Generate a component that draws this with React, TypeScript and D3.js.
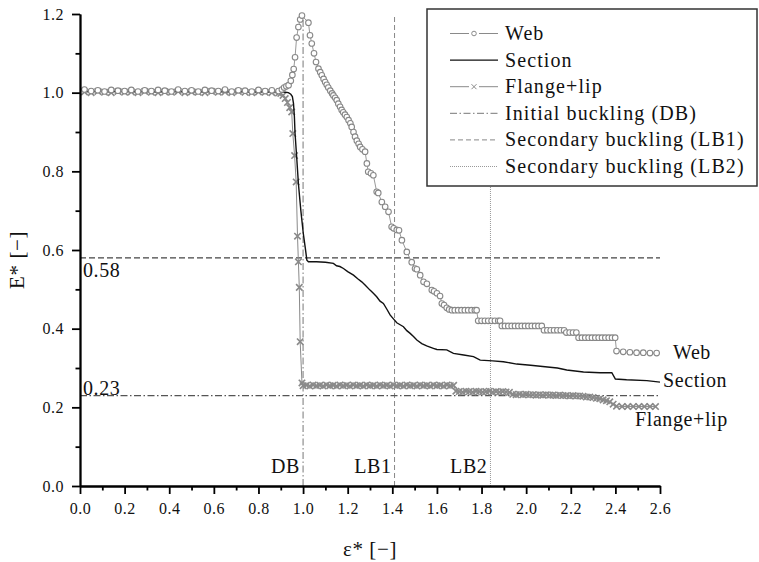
import React, { useRef, useEffect } from 'react';
import * as d3 from 'd3';

// normalised strain eps* vs normalised stiffness E*
const webData: [number, number][] = [
  [0.02, 1.008], [0.05, 1.004], [0.08, 1.006], [0.11, 1.003], [0.14, 1.007], [0.17, 1.005],
  [0.20, 1.004], [0.23, 1.007], [0.26, 1.003], [0.29, 1.006], [0.32, 1.004], [0.35, 1.007],
  [0.38, 1.005], [0.41, 1.003], [0.44, 1.008], [0.47, 1.004], [0.50, 1.006], [0.53, 1.003],
  [0.56, 1.007], [0.59, 1.005], [0.62, 1.004], [0.65, 1.008], [0.68, 1.003], [0.71, 1.006],
  [0.74, 1.005], [0.77, 1.003], [0.80, 1.007], [0.83, 1.004], [0.86, 1.006], [0.89, 1.004],
  [0.905, 1.008], [0.915, 1.013], [0.925, 1.016], [0.935, 1.019], [0.945, 1.03], [0.952, 1.045],
  [0.958, 1.06], [0.964, 1.09], [0.971, 1.14], [0.979, 1.167], [0.987, 1.186], [0.995, 1.196],
  [1.024, 1.178], [1.031, 1.146], [1.039, 1.125], [1.049, 1.1], [1.058, 1.078], [1.069, 1.061],
  [1.077, 1.052], [1.084, 1.044], [1.092, 1.035], [1.099, 1.027], [1.106, 1.02], [1.113, 1.013],
  [1.122, 1.005], [1.13, 0.998], [1.136, 0.993], [1.144, 0.987], [1.151, 0.981], [1.158, 0.972],
  [1.166, 0.964], [1.173, 0.956], [1.18, 0.95], [1.188, 0.944], [1.196, 0.938], [1.204, 0.93],
  [1.212, 0.922], [1.218, 0.913], [1.226, 0.9], [1.233, 0.888], [1.241, 0.878], [1.249, 0.87],
  [1.256, 0.862], [1.266, 0.856], [1.278, 0.85], [1.286, 0.82], [1.292, 0.799], [1.304, 0.795],
  [1.315, 0.79], [1.33, 0.748], [1.337, 0.745], [1.353, 0.722], [1.368, 0.71], [1.383, 0.697],
  [1.397, 0.659], [1.406, 0.655], [1.42, 0.651], [1.43, 0.65], [1.443, 0.625], [1.465, 0.595],
  [1.487, 0.569], [1.502, 0.553], [1.51, 0.551], [1.525, 0.536], [1.54, 0.519], [1.555, 0.514],
  [1.577, 0.498], [1.587, 0.495], [1.6, 0.49], [1.614, 0.483], [1.622, 0.464], [1.632, 0.46],
  [1.644, 0.453], [1.655, 0.449],
  [1.667, 0.447], [1.68, 0.447], [1.695, 0.447], [1.71, 0.447], [1.725, 0.447], [1.74, 0.447],
  [1.755, 0.447], [1.77, 0.447], [1.778, 0.447],
  [1.785, 0.42], [1.8, 0.42], [1.815, 0.42], [1.83, 0.42], [1.845, 0.42], [1.86, 0.42],
  [1.875, 0.42], [1.883, 0.42],
  [1.891, 0.407], [1.905, 0.407], [1.92, 0.407], [1.935, 0.407], [1.95, 0.407], [1.965, 0.407],
  [1.98, 0.407], [1.995, 0.407], [2.01, 0.407], [2.025, 0.407], [2.04, 0.407], [2.055, 0.407],
  [2.07, 0.407],
  [2.08, 0.396], [2.095, 0.396], [2.11, 0.396], [2.125, 0.396], [2.14, 0.396], [2.155, 0.396],
  [2.17, 0.396],
  [2.18, 0.39], [2.195, 0.39], [2.21, 0.39], [2.225, 0.39],
  [2.235, 0.377], [2.25, 0.377], [2.265, 0.377], [2.28, 0.377], [2.295, 0.377], [2.31, 0.377],
  [2.325, 0.377], [2.34, 0.377], [2.355, 0.377], [2.37, 0.377], [2.385, 0.377], [2.399, 0.377],
  [2.405, 0.343], [2.435, 0.341], [2.465, 0.34], [2.495, 0.339], [2.525, 0.339], [2.555, 0.338],
  [2.585, 0.338],
];

const sectionData: [number, number][] = [
  [0.02, 1.004], [0.3, 1.003], [0.6, 1.003], [0.9, 1.002], [0.92, 1.001], [0.934, 1.0],
  [0.945, 0.996], [0.952, 0.99], [0.957, 0.973], [0.961, 0.94], [0.964, 0.897], [0.972, 0.83],
  [0.979, 0.769], [0.99, 0.7], [1.001, 0.642], [1.01, 0.605], [1.017, 0.574], [1.024, 0.57],
  [1.06, 0.57], [1.1, 0.569], [1.136, 0.566], [1.15, 0.56], [1.165, 0.558], [1.181, 0.553],
  [1.2, 0.545], [1.226, 0.536], [1.245, 0.527], [1.263, 0.519], [1.28, 0.51], [1.3, 0.498],
  [1.315, 0.49], [1.33, 0.481], [1.345, 0.47], [1.36, 0.464], [1.375, 0.45], [1.39, 0.435],
  [1.405, 0.425], [1.42, 0.415], [1.435, 0.41], [1.45, 0.405], [1.465, 0.395], [1.48, 0.388],
  [1.495, 0.38], [1.51, 0.371], [1.532, 0.362], [1.554, 0.356], [1.584, 0.35], [1.6, 0.347],
  [1.644, 0.346], [1.674, 0.337], [1.72, 0.333], [1.764, 0.329], [1.794, 0.32], [1.85, 0.318],
  [1.898, 0.316], [1.958, 0.31], [2.02, 0.307], [2.085, 0.303], [2.14, 0.3], [2.182, 0.295],
  [2.257, 0.29], [2.332, 0.288], [2.384, 0.288], [2.4, 0.272], [2.45, 0.27], [2.541, 0.268],
  [2.6, 0.264],
];

const flangeData: [number, number][] = [
  [0.02, 1.002], [0.05, 1.0], [0.08, 1.003], [0.11, 1.001], [0.14, 1.0], [0.17, 1.003],
  [0.20, 1.001], [0.23, 1.002], [0.26, 1.0], [0.29, 1.003], [0.32, 1.001], [0.35, 1.0],
  [0.38, 1.002], [0.41, 1.001], [0.44, 1.003], [0.47, 1.0], [0.50, 1.002], [0.53, 1.001],
  [0.56, 1.0], [0.59, 1.003], [0.62, 1.001], [0.65, 1.002], [0.68, 1.0], [0.71, 1.003],
  [0.74, 1.001], [0.77, 1.0], [0.80, 1.002], [0.83, 1.001], [0.86, 1.0], [0.89, 0.999],
  [0.9, 0.998], [0.91, 0.993], [0.92, 0.985], [0.93, 0.975], [0.94, 0.962], [0.949, 0.951],
  [0.954, 0.896], [0.962, 0.84], [0.969, 0.773], [0.975, 0.635], [0.979, 0.57], [0.983, 0.505],
  [0.987, 0.367], [0.995, 0.262],
  [1.0, 0.255], [1.015, 0.256], [1.03, 0.254], [1.045, 0.257], [1.06, 0.255], [1.075, 0.256],
  [1.09, 0.254], [1.105, 0.257], [1.12, 0.255], [1.135, 0.256], [1.15, 0.254], [1.165, 0.257],
  [1.18, 0.255], [1.195, 0.256], [1.21, 0.254], [1.225, 0.257], [1.24, 0.255], [1.255, 0.256],
  [1.27, 0.254], [1.285, 0.257], [1.3, 0.255], [1.315, 0.256], [1.33, 0.254], [1.345, 0.257],
  [1.36, 0.255], [1.375, 0.256], [1.39, 0.254], [1.405, 0.257], [1.42, 0.255], [1.435, 0.256],
  [1.45, 0.254], [1.465, 0.257], [1.48, 0.255], [1.495, 0.256], [1.51, 0.254], [1.525, 0.257],
  [1.54, 0.255], [1.555, 0.256], [1.57, 0.254], [1.585, 0.257], [1.6, 0.255], [1.615, 0.256],
  [1.63, 0.254], [1.645, 0.257], [1.66, 0.255], [1.675, 0.256],
  [1.685, 0.241], [1.7, 0.24], [1.715, 0.239], [1.73, 0.241], [1.745, 0.24], [1.76, 0.239],
  [1.775, 0.241], [1.79, 0.24], [1.805, 0.239], [1.82, 0.24], [1.835, 0.241], [1.85, 0.239],
  [1.865, 0.24], [1.88, 0.239], [1.895, 0.24], [1.91, 0.239], [1.925, 0.238],
  [1.94, 0.233], [1.955, 0.232], [1.97, 0.233], [1.985, 0.232], [2.0, 0.233], [2.015, 0.232],
  [2.03, 0.232], [2.045, 0.231], [2.06, 0.232], [2.075, 0.231], [2.09, 0.232], [2.105, 0.231],
  [2.12, 0.231], [2.135, 0.23], [2.15, 0.231], [2.165, 0.23], [2.18, 0.23], [2.195, 0.229],
  [2.21, 0.23], [2.225, 0.229],
  [2.24, 0.229], [2.255, 0.228], [2.27, 0.226], [2.285, 0.226], [2.3, 0.225], [2.315, 0.223],
  [2.33, 0.222], [2.345, 0.219], [2.36, 0.217], [2.375, 0.214], [2.39, 0.208], [2.405, 0.203],
  [2.43, 0.202], [2.455, 0.202], [2.48, 0.202], [2.505, 0.202], [2.53, 0.202], [2.555, 0.202],
  [2.58, 0.202],
];

const xMajor = [0, 0.2, 0.4, 0.6, 0.8, 1.0, 1.2, 1.4, 1.6, 1.8, 2.0, 2.2, 2.4, 2.6];
const xMinor = [0.1, 0.3, 0.5, 0.7, 0.9, 1.1, 1.3, 1.5, 1.7, 1.9, 2.1, 2.3, 2.5];
const yMajor = [0, 0.2, 0.4, 0.6, 0.8, 1.0, 1.2];
const yMinor = [0.1, 0.3, 0.5, 0.7, 0.9, 1.1];

const bucklingNames = ['DB', 'LB1', 'LB2'];
const bucklingStrain = [1.0, 1.41, 1.84];
const levelValues = [0.58, 0.23];
const levelLabels = ['0.58', '0.23'];
const endLabels = ['Web', 'Section', 'Flange+lip'];
const legendLabels = [
  'Web', 'Section', 'Flange+lip', 'Initial buckling (DB)',
  'Secondary buckling (LB1)', 'Secondary buckling (LB2)',
];

const FONT = '"Liberation Serif", "Times New Roman", serif';

const App = () => {
  const svgRef = useRef<SVGSVGElement>(null);

  useEffect(() => {
    const svg = d3.select(svgRef.current);
    svg.selectAll('*').remove();

    const x = d3.scaleLinear().domain([0, 2.6]).range([80, 660]);
    const y = d3.scaleLinear().domain([0, 1.2]).range([486, 14]);

    const grey = '#8a8a8a';
    const vDash = ['7,2.5,1.5,2.5', '5,3', '1,1'];
    const vColor = ['#777', '#888', '#999'];

    const label = (sel: any, size: number, ls = 0.6) =>
      sel.style('font-family', FONT).style('font-size', `${size}px`)
        .style('letter-spacing', `${ls}px`).attr('fill', '#111');

    // vertical buckling markers
    bucklingStrain.forEach((s, i) => {
      svg.append('line')
        .attr('x1', x(s)).attr('x2', x(s))
        .attr('y1', y(0)).attr('y2', y(1.2))
        .attr('stroke', vColor[i]).attr('stroke-width', 1)
        .attr('stroke-dasharray', vDash[i]);
      svg.append('text')
        .attr('x', x(s) - 3).attr('y', 473)
        .attr('text-anchor', 'end')
        .call(label, 20)
        .text(bucklingNames[i]);
    });

    // horizontal reference levels
    const hDash = ['6,3', '7,2.5,1.5,2.5'];
    const hColor = ['#444', '#555'];
    levelValues.forEach((v, i) => {
      svg.append('line')
        .attr('x1', x(0)).attr('x2', x(2.6))
        .attr('y1', y(v)).attr('y2', y(v))
        .attr('stroke', hColor[i]).attr('stroke-width', 1.2)
        .attr('stroke-dasharray', hDash[i]);
    });
    svg.append('text').attr('x', 83).attr('y', y(0.58) + 19)
      .call(label, 20).text(levelLabels[0]);
    svg.append('text').attr('x', 83).attr('y', y(0.23) - 1)
      .call(label, 20).text(levelLabels[1]);

    const line = d3.line<[number, number]>().x(d => x(d[0])).y(d => y(d[1]));

    const cross = (g: any, cx: number, cy: number, r: number, w: number) => {
      g.append('path')
        .attr('d', `M${cx - r},${cy - r}L${cx + r},${cy + r}M${cx - r},${cy + r}L${cx + r},${cy - r}`)
        .attr('stroke', grey).attr('stroke-width', w).attr('fill', 'none');
    };

    // Flange+lip
    svg.append('path').datum(flangeData).attr('d', line)
      .attr('fill', 'none').attr('stroke', grey).attr('stroke-width', 1);
    const fl = svg.append('g');
    flangeData.forEach(d => cross(fl, x(d[0]), y(d[1]), 3.2, 1.6));

    // Section
    svg.append('path').datum(sectionData).attr('d', line)
      .attr('fill', 'none').attr('stroke', '#111').attr('stroke-width', 1.4);

    // Web
    svg.append('path').datum(webData).attr('d', line)
      .attr('fill', 'none').attr('stroke', '#999').attr('stroke-width', 1);
    svg.append('g').selectAll('circle')
      .data(webData).enter().append('circle')
      .attr('cx', d => x(d[0])).attr('cy', d => y(d[1])).attr('r', 2.8)
      .attr('fill', 'white').attr('stroke', '#888').attr('stroke-width', 1.1);

    // axes
    const styleAxis = (g: any) => {
      g.select('.domain').attr('stroke', '#000').attr('stroke-width', 1.8);
      g.selectAll('.tick line').attr('stroke', '#000').attr('stroke-width', 1.8);
      g.selectAll('text').style('font-family', FONT).style('font-size', '16px')
        .style('letter-spacing', '0.5px').attr('fill', '#111');
    };
    svg.append('g').attr('transform', `translate(0,${y(0)})`)
      .call(d3.axisBottom(x).tickValues(xMinor).tickSize(4.5).tickFormat(() => '').tickSizeOuter(0))
      .call(styleAxis);
    svg.append('g').attr('transform', `translate(0,${y(0)})`)
      .call(d3.axisBottom(x).tickValues(xMajor).tickSize(8).tickPadding(9)
        .tickFormat(d3.format('.1f')).tickSizeOuter(0))
      .call(styleAxis);
    svg.append('g').attr('transform', `translate(${x(0)},0)`)
      .call(d3.axisLeft(y).tickValues(yMinor).tickSize(4.5).tickFormat(() => '').tickSizeOuter(0))
      .call(styleAxis);
    svg.append('g').attr('transform', `translate(${x(0)},0)`)
      .call(d3.axisLeft(y).tickValues(yMajor).tickSize(8).tickPadding(8)
        .tickFormat(d3.format('.1f')).tickSizeOuter(0))
      .call(styleAxis);

    // axis titles
    svg.append('text')
      .attr('transform', 'translate(24,260) rotate(-90)')
      .attr('text-anchor', 'middle')
      .call(label, 21)
      .text('E* [−]');
    svg.append('text')
      .attr('x', 370).attr('y', 556).attr('text-anchor', 'middle')
      .call(label, 21)
      .text('ε* [−]');

    // curve end labels
    const endPos: [number, number][] = [[673, 359], [663, 387], [635, 426]];
    endLabels.forEach((t, i) => {
      svg.append('text').attr('x', endPos[i][0]).attr('y', endPos[i][1])
        .call(label, 20).text(t);
    });

    // legend
    const lg = svg.append('g');
    lg.append('rect').attr('x', 427).attr('y', 9).attr('width', 330).attr('height', 177)
      .attr('fill', 'white').attr('stroke', '#333').attr('stroke-width', 1.5);
    const legStroke = [grey, '#111', grey, '#777', '#888', '#999'];
    const legDash = [null, null, null, '7,2.5,1.5,2.5', '5,3', '1,1'];
    legendLabels.forEach((t, i) => {
      const cy = 33.5 + i * 26.6;
      lg.append('line').attr('x1', 450).attr('x2', 498).attr('y1', cy).attr('y2', cy)
        .attr('stroke', legStroke[i]).attr('stroke-width', i === 1 ? 1.4 : 1)
        .attr('stroke-dasharray', legDash[i]);
      if (i === 0) {
        lg.append('rect').attr('x', 469).attr('y', cy - 4).attr('width', 10).attr('height', 8).attr('fill', 'white');
        lg.append('circle').attr('cx', 474).attr('cy', cy).attr('r', 2.3)
          .attr('fill', 'white').attr('stroke', grey);
      }
      if (i === 2) {
        lg.append('rect').attr('x', 469).attr('y', cy - 4).attr('width', 10).attr('height', 8).attr('fill', 'white');
        cross(lg, 474, cy, 2.5, 1);
      }
      lg.append('text').attr('x', 505).attr('y', cy + 6.5)
        .call(label, 20, 1.1).text(t);
    });
  }, []);

  return (
    <svg ref={svgRef} width={759} height={562}
      style={{ position: 'absolute', left: 0, top: 0, background: 'white' }} />
  );
};

export default App;
